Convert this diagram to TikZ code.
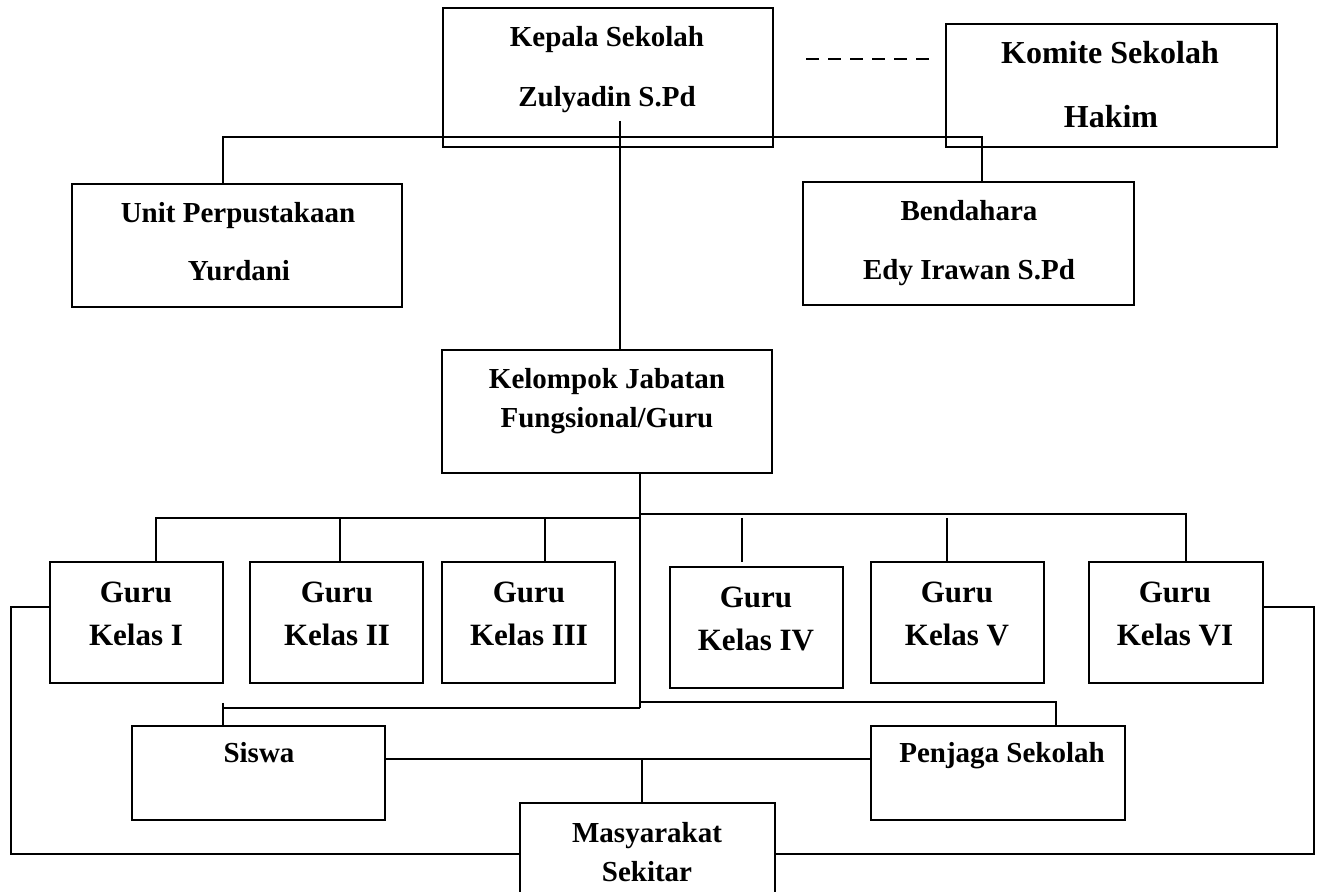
\documentclass[tikz,border=0pt]{standalone}
\usepackage{fontspec}
\setmainfont{Liberation Serif}
\usetikzlibrary{fit}
\begin{document}
\begin{tikzpicture}[x=0.5pt,y=-0.5pt,
  box/.style={draw, line width=1.1pt, inner sep=0pt, rectangle},
  lbl/.style={anchor=base, inner sep=0pt, font=\bfseries\fontsize{14.5}{17}\selectfont},
  glbl/.style={anchor=base, inner sep=0pt, font=\bfseries\fontsize{15.5}{18}\selectfont},
  klbl/.style={anchor=base, inner sep=0pt, font=\bfseries\fontsize{16}{19}\selectfont},
  conn/.style={line width=0.9pt},
  dconn/.style={line width=0.9pt, dash pattern=on 6.5pt off 4.5pt}]
\useasboundingbox (0,0) rectangle (1319,892);
\clip (0,0) rectangle (1319,892);

% ---- boxes
\node[box, fit={(443,8) (773,147)}] (kepala) {};
\node[box, fit={(946,24) (1277,147)}] (komite) {};
\node[box, fit={(72,184) (402,307)}] (unit) {};
\node[box, fit={(803,182) (1134,305)}] (bend) {};
\node[box, fit={(442,350) (772,473)}] (kel) {};
\node[box, fit={(50,562) (223,683)}] (g1) {};
\node[box, fit={(250,562) (423,683)}] (g2) {};
\node[box, fit={(442,562) (615,683)}] (g3) {};
\node[box, fit={(670,567) (843,688)}] (g4) {};
\node[box, fit={(871,562) (1044,683)}] (g5) {};
\node[box, fit={(1089,562) (1263,683)}] (g6) {};
\node[box, fit={(132,726) (385,820)}] (siswa) {};
\node[box, fit={(871,726) (1125,820)}] (penj) {};
\node[box, fit={(520,803) (775,930)}] (masy) {};

% ---- texts
\node[lbl] (kepala1) at (607,47) {Kepala Sekolah};
\node[lbl] (kepala2) at (607,107) {Zulyadin S.Pd};
\node[klbl] (komite1) at (1110,64) {Komite Sekolah};
\node[klbl] (komite2) at (1111,128) {Hakim};
\node[lbl] (unit1) at (238,223) {Unit Perpustakaan};
\node[lbl] (unit2) at (239,281) {Yurdani};
\node[lbl] (bend1) at (969,221) {Bendahara};
\node[lbl] (bend2) at (969,280) {Edy Irawan S.Pd};
\node[lbl] (kel1) at (607,389) {Kelompok Jabatan};
\node[lbl] (kel2) at (607,428) {Fungsional/Guru};
\node[glbl] (g1a) at (136,603) {Guru};
\node[glbl] (g1b) at (136,646) {Kelas I};
\node[glbl] (g2a) at (337,603) {Guru};
\node[glbl] (g2b) at (337,646) {Kelas II};
\node[glbl] (g3a) at (529,603) {Guru};
\node[glbl] (g3b) at (529,646) {Kelas III};
\node[glbl] (g4a) at (756,608) {Guru};
\node[glbl] (g4b) at (756,651) {Kelas IV};
\node[glbl] (g5a) at (957,603) {Guru};
\node[glbl] (g5b) at (957,646) {Kelas V};
\node[glbl] (g6a) at (1175,603) {Guru};
\node[glbl] (g6b) at (1175,646) {Kelas VI};
\node[lbl] (siswa1) at (259,763) {Siswa};
\node[lbl] (penj1) at (1002,763) {Penjaga Sekolah};
\node[lbl] (masy1) at (647,843) {Masyarakat};
\node[lbl] (masy2) at (647,882) {Sekitar};

% ---- connectors
\coordinate (dL) at (806,59);
\coordinate (dR) at (938,59);
\draw[dconn] (dL) -- (dR);

\coordinate (topL) at (223,137);
\coordinate (topR) at (982,137);
\draw[conn] (unit.north -| topL) -- (topL) -- (topR) -- (bend.north -| topR);

\coordinate (kc) at (620,121);
\draw[conn] (kc) -- (kc |- kel.north);

\coordinate (kb) at (640,708);
\draw[conn] (kel.south -| kb) -- (kb);

\coordinate (lb) at (156,518);
\draw[conn] (g1.north -| lb) -- (lb) -- (lb -| kb);
\coordinate (t2) at (340,518);
\draw[conn] (t2) -- (t2 |- g2.north);
\coordinate (t3) at (545,518);
\draw[conn] (t3) -- (t3 |- g3.north);

\coordinate (rb) at (1186,514);
\draw[conn] (kb |- rb) -- (rb) -- (rb |- g6.north);
\coordinate (t4a) at (742,518);
\coordinate (t4b) at (742,562);
\draw[conn] (t4a) -- (t4b);
\coordinate (t5) at (947,518);
\draw[conn] (t5) -- (t5 |- g5.north);

\coordinate (sl) at (223,708);
\coordinate (sl0) at (223,703);
\draw[conn] (kb) -- (sl);
\draw[conn] (sl0) -- (sl0 |- siswa.north);
\coordinate (sr) at (1056,702);
\draw[conn] (kb |- sr) -- (sr) -- (sr |- penj.north);

\coordinate (mid) at (642,759);
\draw[conn] (mid -| siswa.east) -- (mid -| penj.west);
\draw[conn] (mid) -- (mid |- masy.north);

\coordinate (ll) at (11,607);
\coordinate (ll2) at (11,854);
\draw[conn] (ll -| g1.west) -- (ll) -- (ll2) -- (ll2 -| masy.west);
\coordinate (rl) at (1314,607);
\coordinate (rl2) at (1314,854);
\draw[conn] (rl -| g6.east) -- (rl) -- (rl2) -- (rl2 -| masy.east);
\end{tikzpicture}
\end{document}
